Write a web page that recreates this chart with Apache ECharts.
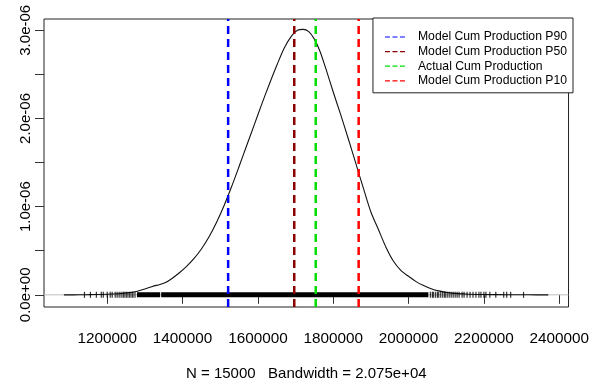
<!DOCTYPE html>
<html><head><meta charset="utf-8">
<script src="https://cdn.jsdelivr.net/npm/echarts@6/dist/echarts.min.js"></script>
<style>html,body{margin:0;padding:0;background:#fff}#c{width:592px;height:386px}</style>
</head><body><div id="c"></div>
<script>
// ---- data ----
const densityX = [1085000,1110000,1140000,1170000,1200000,1230000,1260000,1280000,1300000,1320000,1340000,1355000,1370000,1390000,1410000,1430000,1450000,1470000,1490000,1510000,1530000,1550000,1570000,1590000,1610000,1630000,1650000,1670000,1690000,1705000,1720000,1735000,1750000,1765000,1780000,1800000,1820000,1840000,1860000,1880000,1900000,1920000,1940000,1960000,1980000,2000000,2020000,2040000,2060000,2080000,2100000,2130000,2160000,2200000,2250000,2300000,2340000,2371000];
const densityY = [0,0,0.001e-6,0.003e-6,0.006e-6,0.013e-6,0.025e-6,0.040e-6,0.065e-6,0.095e-6,0.118e-6,0.140e-6,0.180e-6,0.245e-6,0.320e-6,0.410e-6,0.520e-6,0.655e-6,0.820e-6,1.010e-6,1.225e-6,1.455e-6,1.690e-6,1.925e-6,2.160e-6,2.385e-6,2.600e-6,2.800e-6,2.940e-6,3.000e-6,3.010e-6,2.985e-6,2.900e-6,2.760e-6,2.570e-6,2.300e-6,2.040e-6,1.770e-6,1.490e-6,1.210e-6,0.940e-6,0.740e-6,0.540e-6,0.380e-6,0.275e-6,0.210e-6,0.150e-6,0.105e-6,0.070e-6,0.045e-6,0.028e-6,0.014e-6,0.007e-6,0.004e-6,0.002e-6,0.001e-6,0,0];
const rugTicks = [1139500,1155300,1171100,1184200,1189500,1200000,1207900,1213200,1221100,1226300,1231600,1236800,1242100,1244700,1250000,1252600,1257900,1260500,1265800,1268400,1273700,
  2057900,2063200,2065800,2071100,2076300,2078900,2084200,2089500,2094700,2097400,2102600,2107900,2113200,2118400,2123700,2128900,2134200,2142100,2147400,2155300,2163200,2171100,2178900,2186800,2192100,2200000,2205300,2215800,2231600,2252600,2260500,2271100,2305300];
const rugBands = [[1278900,1340500],[1343200,2052600]];
const refNames = ["Model Cum Production P90","Model Cum Production P50","Actual Cum Production","Model Cum Production P10"];
const refValues = [1521000,1696500,1753500,1867500];
const refColors = ['#0000ff','#8b0000','#00dd00','#ff0000'];
const xTickValues = [1200000,1400000,1600000,1800000,2000000,2200000,2400000];
const yTickValues = [0,0.5e-6,1.0e-6,1.5e-6,2.0e-6,2.5e-6,3.0e-6];
const yLabelValues = [0,1e-6,2e-6,3e-6];
const yLabelTexts = ["0.0e+00","1.0e-06","2.0e-06","3.0e-06"];
const nSamples = 15000;
const bandwidthText = "2.075e+04";

// ---- axis limits ----
const X_MIN = 1032100, X_MAX = 2424700;
const Y_MIN = -0.138e-6, Y_MAX = 3.128e-6;
const FONT = "'Liberation Sans', Arial, sans-serif";

const chart = echarts.init(document.getElementById('c'));
const series = [];
series.push({type:'line', silent:true, symbol:'none', data:[[X_MIN,0],[X_MAX,0]],
  lineStyle:{color:'#bebebe', width:1}, z:1});
series.push({type:'line', silent:true, symbol:'none', smooth:0.3,
  data: densityX.map((x,i)=>[x,densityY[i]]), lineStyle:{color:'#111', width:1.1}, z:2});
rugBands.forEach(b=>series.push({type:'line', silent:true, symbol:'none',
  data:[[b[0],0],[b[1],0]], lineStyle:{color:'#000', width:5, cap:'butt'}, z:3}));
series.push({type:'scatter', silent:true, symbol:'rect', symbolSize:[1.2,6],
  data: rugTicks.map(x=>[x,0]), itemStyle:{color:'#000'}, z:3});
refNames.forEach((n,i)=>series.push({type:'line', name:n, silent:true, symbol:'none',
  color: refColors[i], itemStyle:{color:refColors[i]},
  data:[[refValues[i],Y_MIN],[refValues[i],Y_MAX]],
  lineStyle:{color:refColors[i], width:2.5, type:[8,5]}, z:5}));

chart.setOption({
  animation:false,
  textStyle:{fontFamily:FONT, color:'#000'},
  grid:{left:44, top:19, right:19, bottom:77, show:true, borderColor:'#222', borderWidth:1, backgroundColor:'transparent'},
  xAxis:{type:'value', min:X_MIN, max:X_MAX,
    name: 'N = ' + nSamples + '   Bandwidth = ' + bandwidthText,
    nameLocation:'middle', nameGap:59,
    nameTextStyle:{fontSize:15, color:'#000', fontFamily:FONT},
    axisLine:{show:false}, splitLine:{show:false},
    axisTick:{show:true, inside:false, length:9, customValues:xTickValues, lineStyle:{color:'#333'}},
    axisLabel:{customValues:xTickValues, fontSize:15.3, color:'#000', margin:24, fontFamily:FONT,
      formatter:v=>String(v)}},
  yAxis:{type:'value', min:Y_MIN, max:Y_MAX,
    axisLine:{show:false}, splitLine:{show:false},
    axisTick:{show:true, inside:false, length:9, customValues:yTickValues, lineStyle:{color:'#333'}},
    axisLabel:{customValues:yLabelValues, rotate:90, fontSize:15, color:'#000', margin:11, fontFamily:FONT,
      formatter:v=>{let k=0,b=Infinity;yLabelValues.forEach((u,i)=>{const d=Math.abs(u-v);if(d<b){b=d;k=i;}});return yLabelTexts[k];}}},
  legend:{data:refNames, orient:'vertical', right:19, top:18, selectedMode:false,
    icon:'path://M0,0h5v1.2h-5zM7.5,0h5v1.2h-5zM15,0h5v1.2h-5z',
    itemWidth:20, itemHeight:12, itemGap:2.6, padding:[13,6,6,12],
    borderColor:'#222', borderWidth:1, backgroundColor:'#fff',
    textStyle:{fontSize:12.2, color:'#000', fontFamily:FONT, padding:[0,0,0,8]}, z:10},
  series: series
});
</script></body></html>
